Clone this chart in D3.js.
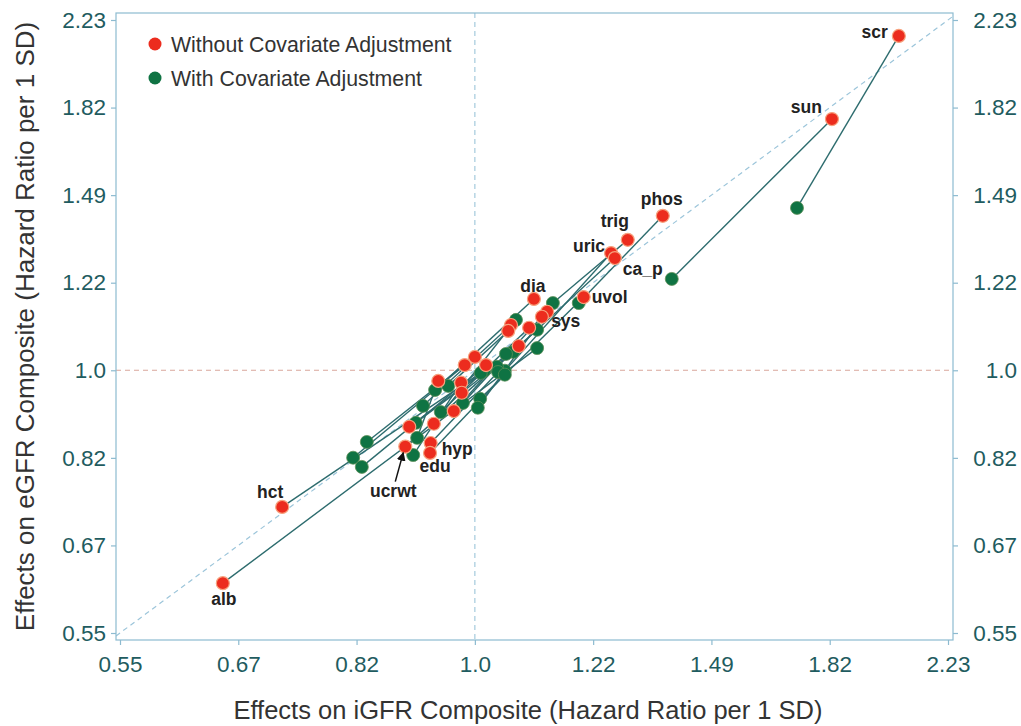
<!DOCTYPE html>
<html>
<head>
<meta charset="utf-8">
<script src="https://cdn.jsdelivr.net/npm/d3@7"></script>
<style>
  body { margin: 0; background: #fff; }
  svg { display: block; font-family: "Liberation Sans", Arial, Helvetica, sans-serif; }
</style>
</head>
<body>
<svg width="1021" height="726"></svg>
<script>

// hazard ratios per 1 SD, iGFR composite (x) vs eGFR composite (y)
const names = ['scr', 'sun', 'phos', 'trig', 'uric', 'ca_p', 'uvol', 'dia', 'sys', '', '', '', '', '', '', '', '', '', '', '', '', '', '', 'ucrwt', 'hyp', 'edu', 'hct', 'alb'];

// without covariate adjustment
const xRaw = [2.048, 1.829, 1.374, 1.295, 1.259, 1.267, 1.202, 1.105, 1.130, 1.120, 1.096, 1.063, 1.058, 1.077, 1.000, 0.983, 1.019, 0.940, 0.977, 0.978, 0.965, 0.933, 0.895, 0.889, 0.928, 0.927, 0.722, 0.653];
const yRaw = [2.146, 1.775, 1.423, 1.347, 1.307, 1.292, 1.182, 1.177, 1.143, 1.130, 1.102, 1.109, 1.094, 1.057, 1.031, 1.012, 1.012, 0.976, 0.972, 0.950, 0.911, 0.885, 0.879, 0.840, 0.847, 0.828, 0.732, 0.615];

// with covariate adjustment
const xAdj = [1.724, 1.395, 1.192, 1.141, 1.052, 1.038, 1.009, 0.935, 1.005, 0.980, 0.944, 0.916, 0.956, 0.905, 0.833, 0.814, 0.826, 0.907, 0.901, 1.067, 1.054, 1.072, 1.016, 1.111, 1.040, 1.052, 1.010, 1.111];
const yAdj = [1.449, 1.232, 1.166, 1.166, 0.999, 1.008, 0.937, 0.956, 0.918, 0.928, 0.909, 0.922, 0.965, 0.887, 0.849, 0.819, 0.802, 0.857, 0.824, 1.043, 1.038, 1.122, 0.999, 1.097, 0.996, 0.990, 0.994, 1.052];

const tickValues = [0.5488, 0.6703, 0.8187, 1, 1.2214, 1.4918, 1.8221, 2.2255];
const tickLabels = ['0.55', '0.67', '0.82', '1.0', '1.22', '1.49', '1.82', '2.23'];

const legendLabels = ['Without Covariate Adjustment', 'With Covariate Adjustment'];

const red = '#ec2c1e';
const green = '#0f7343';
const tickColor = '#1f5c60';
const frameColor = '#8dbbd0';

// label offsets from the red point [dx, dy, anchor]
const labelPos = {
  scr: [-11, 2, 'end'],
  sun: [-10, -6, 'end'],
  phos: [-1, -11, 'middle'],
  trig: [-13, -13, 'middle'],
  uric: [-6, -1, 'end'],
  ca_p: [8, 17, 'start'],
  uvol: [8, 6, 'start'],
  dia: [-1, -7, 'middle'],
  sys: [4, 15, 'start'],
  hyp: [11, 12, 'start'],
  edu: [5, 19, 'middle'],
  ucrwt: [-12, 50, 'middle'],
  hct: [-12, -9, 'middle'],
  alb: [1, 22, 'middle']
};

const frame = { left: 116, right: 953, top: 13, bottom: 640 };

const svg = d3.select('svg');

const x = d3.scaleLog().domain([tickValues[0], tickValues[7]]).range([120, 948]);
const y = d3.scaleLog().domain([tickValues[0], tickValues[7]]).range([633, 20]);

const pairs = names.map((n, i) => ({
  name: n,
  raw: [xRaw[i], yRaw[i]],
  adj: [xAdj[i], yAdj[i]]
}));

const defs = svg.append('defs');

defs.append('clipPath')
  .attr('id', 'plot')
  .append('rect')
  .attr('x', frame.left).attr('y', frame.top)
  .attr('width', frame.right - frame.left).attr('height', frame.bottom - frame.top);

// reference lines
const ref = svg.append('g').attr('clip-path', 'url(#plot)');

const lo = x.invert(frame.left), hi = x.invert(frame.right);
ref.append('line')
  .attr('x1', x(lo)).attr('y1', y(lo))
  .attr('x2', x(hi)).attr('y2', y(hi))
  .attr('stroke', '#9cc5da').attr('stroke-width', 1.2)
  .attr('stroke-dasharray', '5,4');

ref.append('line')
  .attr('x1', x(1)).attr('x2', x(1))
  .attr('y1', frame.top).attr('y2', frame.bottom)
  .attr('stroke', '#9cc5da').attr('stroke-width', 1.1)
  .attr('stroke-dasharray', '5,4');

ref.append('line')
  .attr('x1', frame.left).attr('x2', frame.right)
  .attr('y1', y(1)).attr('y2', y(1))
  .attr('stroke', '#d9a79c').attr('stroke-width', 1.1)
  .attr('stroke-dasharray', '5,4');

// frame
svg.append('rect')
  .attr('x', frame.left).attr('y', frame.top)
  .attr('width', frame.right - frame.left).attr('height', frame.bottom - frame.top)
  .attr('fill', 'none')
  .attr('stroke', frameColor)
  .attr('stroke-width', 1.2);

// axes
function styleAxis(g) {
  g.select('.domain').remove();
  g.selectAll('.tick line').attr('stroke', frameColor).attr('stroke-width', 1.2);
  g.selectAll('.tick text')
    .attr('fill', tickColor)
    .style('font-size', '22.5px');
}

const fmt = (d) => tickLabels[tickValues.indexOf(d)];

svg.append('g')
  .attr('transform', `translate(0,${frame.bottom})`)
  .call(d3.axisBottom(x).tickValues(tickValues).tickFormat(fmt).tickSize(5).tickPadding(11))
  .call(styleAxis);

svg.append('g')
  .attr('transform', `translate(${frame.left},0)`)
  .call(d3.axisLeft(y).tickValues(tickValues).tickFormat(fmt).tickSize(5).tickPadding(5))
  .call(styleAxis);

svg.append('g')
  .attr('transform', `translate(${frame.right},0)`)
  .call(d3.axisRight(y).tickValues(tickValues).tickFormat(fmt).tickSize(5).tickPadding(20))
  .call(styleAxis)
  .selectAll('.tick text')
  .attr('text-anchor', 'end')
  .attr('x', 64);

// axis titles
svg.append('text')
  .attr('x', 528).attr('y', 719)
  .attr('text-anchor', 'middle')
  .attr('fill', '#333')
  .style('font-size', '25.5px')
  .text('Effects on iGFR Composite (Hazard Ratio per 1 SD)');

svg.append('text')
  .attr('transform', `translate(34,${(frame.top + frame.bottom) / 2}) rotate(-90)`)
  .attr('text-anchor', 'middle')
  .attr('fill', '#333')
  .style('font-size', '26px')
  .text('Effects on eGFR Composite (Hazard Ratio per 1 SD)');

// connecting segments
const plot = svg.append('g').attr('clip-path', 'url(#plot)');

plot.selectAll('.seg')
  .data(pairs)
  .enter()
  .append('line')
  .attr('class', 'seg')
  .attr('x1', (d) => x(d.raw[0])).attr('y1', (d) => y(d.raw[1]))
  .attr('x2', (d) => x(d.adj[0])).attr('y2', (d) => y(d.adj[1]))
  .attr('stroke', '#2d6c6e')
  .attr('stroke-width', 1.4);

plot.selectAll('.adj')
  .data(pairs)
  .enter()
  .append('circle')
  .attr('class', 'adj')
  .attr('cx', (d) => x(d.adj[0])).attr('cy', (d) => y(d.adj[1]))
  .attr('r', 6.5)
  .attr('fill', green)
  .attr('stroke', '#5d8f58').attr('stroke-width', 0.8);

plot.selectAll('.raw')
  .data(pairs)
  .enter()
  .append('circle')
  .attr('class', 'raw')
  .attr('cx', (d) => x(d.raw[0])).attr('cy', (d) => y(d.raw[1]))
  .attr('r', 6.5)
  .attr('fill', red)
  .attr('stroke', '#f7a27e').attr('stroke-width', 1.2);

// point labels
const labelled = pairs.filter((d) => labelPos[d.name]);

svg.selectAll('.lbl')
  .data(labelled)
  .enter()
  .append('text')
  .attr('class', 'lbl')
  .attr('x', (d) => x(d.raw[0]) + labelPos[d.name][0])
  .attr('y', (d) => y(d.raw[1]) + labelPos[d.name][1])
  .attr('text-anchor', (d) => labelPos[d.name][2])
  .attr('fill', '#222')
  .style('font-size', '17.5px')
  .style('font-weight', 'bold')
  .text((d) => d.name);

// arrow to ucrwt
const uc = pairs.find((d) => d.name === 'ucrwt');
defs.append('marker')
  .attr('id', 'head')
  .attr('viewBox', '0 0 10 10')
  .attr('refX', 9).attr('refY', 5)
  .attr('markerWidth', 6).attr('markerHeight', 6)
  .attr('orient', 'auto')
  .append('path')
  .attr('d', 'M0,0L10,5L0,10z')
  .attr('fill', '#111');

svg.append('line')
  .attr('x1', x(uc.raw[0]) - 10).attr('y1', y(uc.raw[1]) + 35)
  .attr('x2', x(uc.raw[0]) - 2).attr('y2', y(uc.raw[1]) + 6)
  .attr('stroke', '#111')
  .attr('stroke-width', 1.5)
  .attr('marker-end', 'url(#head)');

// legend
const legend = svg.append('g').attr('transform', 'translate(155,44)');

legend.selectAll('circle')
  .data(legendLabels)
  .enter()
  .append('circle')
  .attr('cx', 0).attr('cy', (d, i) => i * 34)
  .attr('r', 6.5)
  .attr('fill', (d, i) => i ? green : red);

legend.selectAll('text')
  .data(legendLabels)
  .enter()
  .append('text')
  .attr('x', 16).attr('y', (d, i) => i * 34 + 7.5)
  .attr('fill', '#333')
  .style('font-size', '21.3px')
  .text((d) => d);

</script>
</body>
</html>
